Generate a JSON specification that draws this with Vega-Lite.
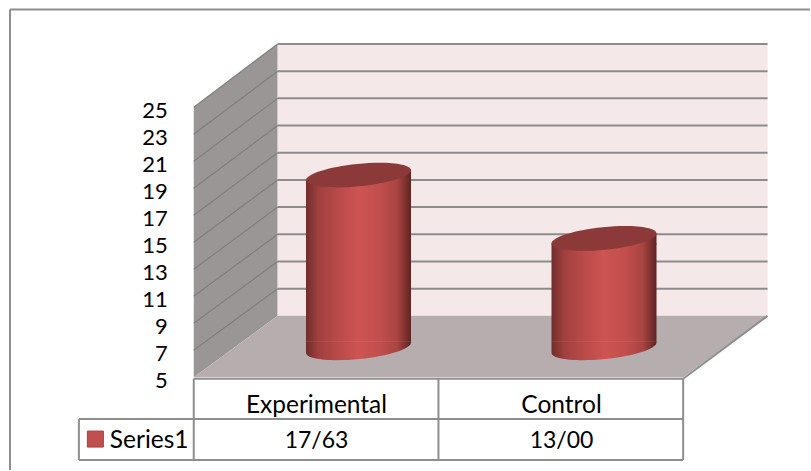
{
"$schema":"https://vega.github.io/schema/vega-lite/v6.json",
"width":811,"height":471,"autosize":{"type":"fit","contains":"padding"},"padding":0,"background":"white",
"config":{"view":{"stroke":null}},
"datasets":{
"walls":[
{"part":"left","u":0,"top":25,"low":5},{"part":"left","u":0.3429,"top":29.678,"low":9.545},
{"part":"floor","u":0,"top":5,"low":5},{"part":"floor","u":0.3429,"top":9.545,"low":5},{"part":"floor","u":2,"top":9.545,"low":5},{"part":"floor","u":2.345,"top":9.545,"low":9.545},
{"part":"back","u":0.3429,"top":29.678,"low":9.545},{"part":"back","u":2.345,"top":29.678,"low":9.545}],
"grid":[
{"value":5,"front":5,"back":9.545},{"value":7,"front":7,"back":11.558},{"value":9,"front":9,"back":13.572},{"value":11,"front":11,"back":15.585},{"value":13,"front":13,"back":17.598},{"value":15,"front":15,"back":19.612},{"value":17,"front":17,"back":21.625},{"value":19,"front":19,"back":23.638},{"value":21,"front":21,"back":25.652},{"value":23,"front":23,"back":27.665},{"value":25,"front":25,"back":29.678}],
"lines":[
{"part":"frame","a":-0.751,"b":2.5184,"c":32.236,"d":32.236},{"part":"frame","a":-0.751,"b":-0.751,"c":32.236,"d":-1.874},
{"part":"table","a":0,"b":2,"c":4.889,"d":4.889},{"part":"table","a":-0.4694,"b":2,"c":1.896,"d":1.896},{"part":"table","a":-0.4694,"b":2,"c":-1.134,"d":-1.134},
{"part":"table","a":0,"b":0,"c":4.889,"d":-1.134},{"part":"table","a":1,"b":1,"c":4.889,"d":-1.134},{"part":"table","a":2,"b":2,"c":4.889,"d":-1.134},{"part":"table","a":-0.4694,"b":-0.4694,"c":1.896,"d":-1.134},{"part":"table","a":2,"b":2.345,"c":4.889,"d":9.545}],
"bars":[{"category":"Experimental","value":17.63,"label":"17/63"},{"category":"Control","value":13,"label":"13/00"}]
},
"layer":[
{"encoding":{},
 "layer":[
 {"data":{"name":"walls"},"transform":[{"filter":"datum.part==='left'"}],"mark":{"type":"area","color":"#9b9696"},"encoding":{"x":{"field":"u","type":"quantitative","scale":{"domain":[-0.7918,2.5184],"nice":false,"zero":false},"axis":null},"y":{"field":"top","type":"quantitative","scale":{"domain":[-1.874,32.938],"nice":false,"zero":false},"axis":null},"y2":{"field":"low"}}},
 {"data":{"name":"walls"},"transform":[{"filter":"datum.part==='back'"}],"mark":{"type":"area","color":"#f5e8e8"},"encoding":{"x":{"field":"u","type":"quantitative"},"y":{"field":"top","type":"quantitative"},"y2":{"field":"low"}}},
 {"data":{"name":"walls"},"transform":[{"filter":"datum.part==='floor'"}],"mark":{"type":"area","color":"#b6aeae"},"encoding":{"x":{"field":"u","type":"quantitative"},"y":{"field":"top","type":"quantitative"},"y2":{"field":"low"}}},
 {"data":{"name":"grid"},"transform":[{"filter":"datum.value>5"}],"mark":{"type":"rule","color":"#7f7f7f","strokeWidth":1.2},"encoding":{"x":{"datum":0},"x2":{"datum":0.3429},"y":{"field":"front","type":"quantitative"},"y2":{"field":"back"}}},
 {"data":{"name":"grid"},"transform":[{"filter":"datum.value>5"}],"mark":{"type":"rule","color":"#8c8c8c","strokeWidth":2},"encoding":{"x":{"datum":0.3429},"x2":{"datum":2.345},"y":{"field":"back","type":"quantitative"}}},
 {"data":{"name":"lines"},"mark":{"type":"rule","color":"#8e8e8e","strokeWidth":2},"encoding":{"x":{"field":"a","type":"quantitative"},"x2":{"field":"b"},"y":{"field":"c","type":"quantitative"},"y2":{"field":"d"}}},
 {"data":{"name":"grid"},"mark":{"type":"text","align":"right","baseline":"middle","font":"Lato","fontSize":22,"color":"#000000","dy":4},"encoding":{"x":{"datum":-0.106},"y":{"field":"front","type":"quantitative"},"text":{"field":"value","type":"nominal"}}},
 {"data":{"values":[{"series":"Series1"}]},"mark":{"type":"text","align":"left","baseline":"middle","font":"Lato","fontSize":24.5,"color":"#000000","dy":2},"encoding":{"x":{"datum":-0.343},"y":{"datum":0.42},"text":{"field":"series","type":"nominal"}}},
 {"data":{"values":[{"series":"Series1"}]},"mark":{"type":"point","shape":"square","filled":true,"size":256,"fill":"#c0504d","stroke":"#a5423f","strokeWidth":1,"opacity":1},"encoding":{"x":{"datum":-0.402},"y":{"datum":0.418}}}
 ],
 "resolve":{"scale":{"x":"shared","y":"shared"}}
},
{"data":{"name":"bars"},
 "layer":[
 {"mark":{"type":"point","filled":true,"opacity":1,"size":11025,"strokeWidth":0,"shape":"M-1,-0.12 L1,-0.12 L1,-0.1 C1,0.0187 0.5738,0.1598 0.0215,0.215 C-0.5308,0.2702 -1,0.2187 -1,0.1 Z","fill":{"gradient":"linear","x1":0,"y1":0,"x2":1,"y2":0,"stops":[{"offset":0,"color":"#702d2c"},{"offset":0.12,"color":"#a0403f"},{"offset":0.3,"color":"#b84a48"},{"offset":0.5,"color":"#cd5452"},{"offset":0.7,"color":"#c24f4d"},{"offset":0.87,"color":"#a84442"},{"offset":1,"color":"#5f2423"}]}},
  "encoding":{"x":{"field":"category","type":"nominal","scale":{"type":"point","padding":0,"domain":["Experimental","Control"],"range":[358.5,604]},"axis":null},"y":{"datum":5,"type":"quantitative","scale":{"domain":[-3.94,30.44],"nice":false,"zero":false},"axis":null}}},
 {"mark":{"type":"bar","orient":"vertical","width":105,"yOffset":5,"y2Offset":-6,"fill":{"gradient":"linear","x1":0,"y1":0,"x2":1,"y2":0,"stops":[{"offset":0,"color":"#702d2c"},{"offset":0.12,"color":"#a0403f"},{"offset":0.3,"color":"#b84a48"},{"offset":0.5,"color":"#cd5452"},{"offset":0.7,"color":"#c24f4d"},{"offset":0.87,"color":"#a84442"},{"offset":1,"color":"#5f2423"}]}},
  "encoding":{"x":{"field":"category","type":"nominal"},"y":{"field":"value","type":"quantitative"},"y2":{"datum":5}}},
 {"mark":{"type":"point","filled":true,"opacity":1,"size":11025,"strokeWidth":0,"shape":"M-1,0.1 L1,-0.1 L1,0.12 L-1,0.12 Z","fill":{"gradient":"linear","x1":0,"y1":0,"x2":1,"y2":0,"stops":[{"offset":0,"color":"#702d2c"},{"offset":0.12,"color":"#a0403f"},{"offset":0.3,"color":"#b84a48"},{"offset":0.5,"color":"#cd5452"},{"offset":0.7,"color":"#c24f4d"},{"offset":0.87,"color":"#a84442"},{"offset":1,"color":"#5f2423"}]}},
  "encoding":{"x":{"field":"category","type":"nominal"},"y":{"field":"value","type":"quantitative"}}},
 {"mark":{"type":"point","filled":true,"opacity":1,"size":11025,"strokeWidth":0,"fill":"#8b3a39","shape":"M-1,0.1 A1.005,0.216 -5.7 0 1 1,-0.1 A1.005,0.216 -5.7 0 1 -1,0.1 Z"},
  "encoding":{"x":{"field":"category","type":"nominal"},"y":{"field":"value","type":"quantitative"}}}
 ]
},
{"data":{"name":"bars"},
 "layer":[
 {"mark":{"type":"text","baseline":"middle","align":"center","font":"Lato","fontSize":24.5,"color":"#000000","dy":2},"encoding":{"x":{"field":"category","type":"nominal","scale":{"type":"point","padding":0,"domain":["Experimental","Control"],"range":[316.5,561.5]},"axis":null},"y":{"datum":3,"type":"quantitative","scale":{"domain":[-1.874,32.938],"nice":false,"zero":false},"axis":null},"text":{"field":"category","type":"nominal"}}},
 {"mark":{"type":"text","baseline":"middle","align":"center","font":"Lato","fontSize":23,"color":"#000000","dy":2},"encoding":{"x":{"field":"category","type":"nominal"},"y":{"datum":0.42,"type":"quantitative"},"text":{"field":"label","type":"nominal"}}}
 ]
}
],
"resolve":{"scale":{"x":"independent","y":"independent"}}
}
